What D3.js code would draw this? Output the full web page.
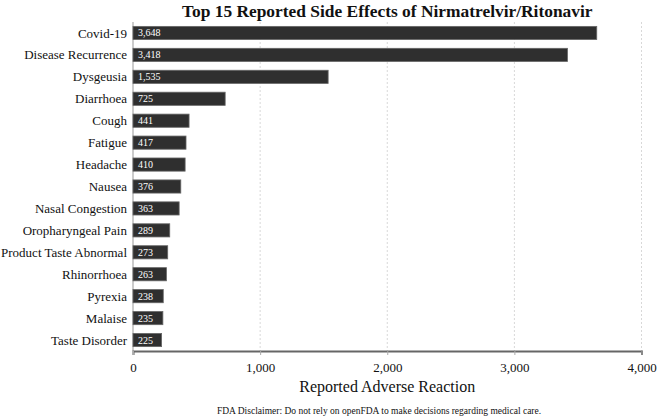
<!DOCTYPE html>
<html>
<head>
<meta charset="utf-8">
<script src="https://cdn.jsdelivr.net/npm/d3@7"></script>
<style>
  body { margin: 0; background: #fff; }
  svg { font-family: "Liberation Serif", "Times New Roman", serif; }
</style>
</head>
<body>
<div id="chart"></div>
<script>
// Side effects and report counts
const effects = ['Covid-19', 'Disease Recurrence', 'Dysgeusia', 'Diarrhoea', 'Cough', 'Fatigue',
  'Headache', 'Nausea', 'Nasal Congestion', 'Oropharyngeal Pain', 'Product Taste Abnormal',
  'Rhinorrhoea', 'Pyrexia', 'Malaise', 'Taste Disorder'];
const counts = [3648, 3418, 1535, 725, 441, 417, 410, 376, 363, 289, 273, 263, 238, 235, 225];
const xTicks = [0, 1000, 2000, 3000, 4000];

const width = 660, height = 420;
const margin = { top: 22, right: 18, bottom: 69, left: 133 };

const svg = d3.select('#chart').append('svg')
  .attr('width', width)
  .attr('height', height);

const x = d3.scaleLinear()
  .domain([0, 4000])
  .range([margin.left, width - margin.right - 0.5]);

const y = d3.scaleBand()
  .domain(effects)
  .range([margin.top, height - margin.bottom])
  .paddingInner(0.4)
  .paddingOuter(0.2);

const fmt = d3.format(',');

// dotted gridlines
svg.append('g')
  .selectAll('line')
  .data(xTicks.slice(1))
  .join('line')
  .attr('x1', d => x(d)).attr('x2', d => x(d))
  .attr('y1', margin.top).attr('y2', height - margin.bottom)
  .attr('stroke', '#d8d8d8')
  .attr('stroke-width', 1)
  .attr('stroke-dasharray', '2,2');

// left baseline
svg.append('line')
  .attr('x1', x(0)).attr('x2', x(0))
  .attr('y1', margin.top).attr('y2', height - margin.bottom)
  .attr('stroke', '#999')
  .attr('stroke-width', 1);

// bars
svg.append('g')
  .selectAll('rect')
  .data(effects)
  .join('rect')
  .attr('x', x(0))
  .attr('y', d => y(d))
  .attr('width', (d, i) => x(counts[i]) - x(0))
  .attr('height', y.bandwidth())
  .attr('fill', '#2f2f2f')
  .attr('stroke', '#666')
  .attr('stroke-width', 0.8);

// value labels
svg.append('g')
  .selectAll('text')
  .data(effects)
  .join('text')
  .attr('x', x(0) + 5)
  .attr('y', d => y(d) + y.bandwidth() / 2)
  .attr('dy', '0.35em')
  .attr('fill', '#fff')
  .attr('font-size', 10)
  .text((d, i) => fmt(counts[i]));

// category labels
svg.append('g')
  .selectAll('text')
  .data(effects)
  .join('text')
  .attr('x', x(0) - 6)
  .attr('y', d => y(d) + y.bandwidth() / 2)
  .attr('dy', '0.35em')
  .attr('text-anchor', 'end')
  .attr('fill', '#111')
  .attr('font-size', 13)
  .text(d => d);

// x axis
const xAxis = svg.append('g')
  .attr('transform', `translate(0,${height - margin.bottom})`)
  .call(d3.axisBottom(x).tickValues(xTicks).tickFormat(fmt).tickSize(4).tickPadding(8));
xAxis.select('.domain').attr('stroke', '#666').attr('stroke-width', 2);
xAxis.selectAll('.tick line').attr('stroke', '#aaa');
xAxis.selectAll('.tick text')
  .attr('font-family', '"Liberation Serif", serif')
  .attr('font-size', 13)
  .attr('fill', '#111');

// axis title
svg.append('text')
  .attr('x', (x(0) + x(4000)) / 2)
  .attr('y', 392)
  .attr('text-anchor', 'middle')
  .attr('font-size', 16)
  .attr('fill', '#111')
  .text('Reported Adverse Reaction');

// title
svg.append('text')
  .attr('x', (x(0) + x(4000)) / 2)
  .attr('y', 17)
  .attr('text-anchor', 'middle')
  .attr('font-size', 17.4)
  .attr('font-weight', 'bold')
  .attr('fill', '#111')
  .text('Top 15 Reported Side Effects of Nirmatrelvir/Ritonavir');

// disclaimer
svg.append('text')
  .attr('x', 379)
  .attr('y', 414)
  .attr('text-anchor', 'middle')
  .attr('font-size', 9.5)
  .attr('fill', '#111')
  .text('FDA Disclaimer: Do not rely on openFDA to make decisions regarding medical care.');
</script>
</body>
</html>
